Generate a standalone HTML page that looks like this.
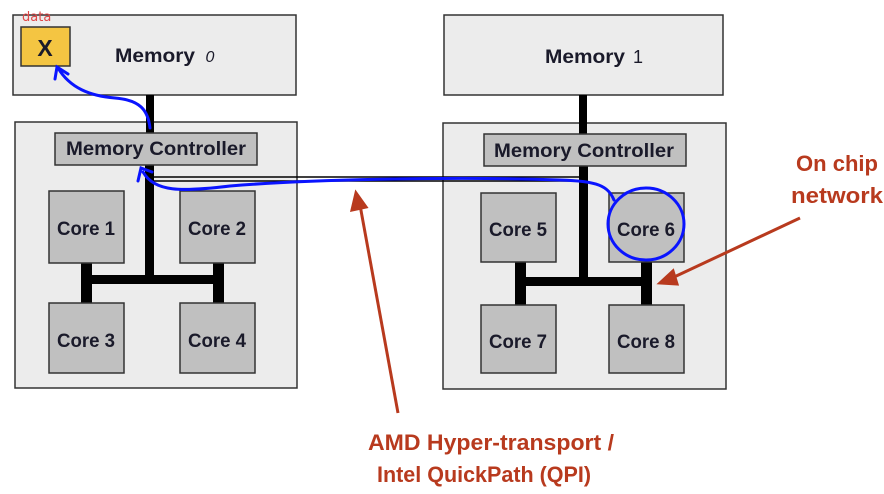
<!DOCTYPE html>
<html><head><meta charset="utf-8"><style>body{margin:0;background:#fff}svg{display:block}</style></head><body>
<svg width="884" height="494" viewBox="0 0 884 494" xmlns="http://www.w3.org/2000/svg" font-family="Liberation Sans, sans-serif" font-weight="bold">
<g stroke="#333" stroke-width="1.5">
<rect x="13" y="15" width="283" height="80" fill="#ececec"/>
<rect x="15" y="122" width="282" height="266" fill="#ececec"/>
<rect x="444" y="15" width="279" height="80" fill="#ececec"/>
<rect x="443" y="123" width="283" height="266" fill="#ececec"/>
<rect x="21" y="27" width="49" height="39" fill="#f4c542"/>
</g>
<g fill="#000">
<rect x="146" y="95" width="8" height="38"/>
<rect x="145" y="165" width="9" height="115"/>
<rect x="81" y="275" width="143" height="9"/>
<rect x="81" y="263" width="11" height="40"/>
<rect x="213" y="263" width="11" height="40"/>
<rect x="579" y="95" width="8" height="39"/>
<rect x="579" y="166" width="9" height="119"/>
<rect x="515" y="277" width="137" height="9"/>
<rect x="515" y="262" width="11" height="44"/>
<rect x="641" y="262" width="11" height="44"/>
</g>
<g stroke="#000" stroke-width="1.5" fill="none">
<path d="M150 177 H585"/><path d="M150 181 H582"/>
</g>
<g stroke="#333" stroke-width="1.5" fill="#c0c0c0">
<rect x="55" y="133" width="202" height="32"/>
<rect x="484" y="134" width="202" height="32"/>
<rect x="49" y="191" width="75" height="72"/>
<rect x="180" y="191" width="75" height="72"/>
<rect x="49" y="303" width="75" height="70"/>
<rect x="180" y="303" width="75" height="70"/>
<rect x="481" y="193" width="75" height="69"/>
<rect x="609" y="193" width="75" height="69"/>
<rect x="481" y="305" width="75" height="68"/>
<rect x="609" y="305" width="75" height="68"/>
</g>
<g fill="#1a1a2a" font-size="19" text-anchor="middle">
<text x="45" y="56" font-size="23">X</text>
<text x="155" y="62" textLength="80" lengthAdjust="spacingAndGlyphs">Memory</text>
<text x="210" y="62" font-weight="normal" font-style="italic" font-size="16">0</text>
<text x="585" y="63" textLength="80" lengthAdjust="spacingAndGlyphs">Memory</text>
<text x="638" y="63" font-weight="normal" font-size="18">1</text>
<text x="156" y="155" textLength="180" lengthAdjust="spacingAndGlyphs">Memory Controller</text>
<text x="584" y="157" textLength="180" lengthAdjust="spacingAndGlyphs">Memory Controller</text>
<text x="86" y="235" textLength="58" lengthAdjust="spacingAndGlyphs">Core 1</text>
<text x="217" y="235" textLength="58" lengthAdjust="spacingAndGlyphs">Core 2</text>
<text x="86" y="347" textLength="58" lengthAdjust="spacingAndGlyphs">Core 3</text>
<text x="217" y="347" textLength="58" lengthAdjust="spacingAndGlyphs">Core 4</text>
<text x="518" y="236" textLength="58" lengthAdjust="spacingAndGlyphs">Core 5</text>
<text x="646" y="236" textLength="58" lengthAdjust="spacingAndGlyphs">Core 6</text>
<text x="518" y="348" textLength="58" lengthAdjust="spacingAndGlyphs">Core 7</text>
<text x="646" y="348" textLength="58" lengthAdjust="spacingAndGlyphs">Core 8</text>
</g>
<text x="22" y="21" fill="#e04848" font-size="13" font-weight="normal" font-family="DejaVu Sans, sans-serif">data</text>
<g stroke="#b83a1e" stroke-width="3" fill="#b83a1e">
<path d="M398 413 L360 205" fill="none"/>
<path d="M356 193 L352 210 L366 207 Z"/>
<path d="M800 218 L672 278" fill="none"/>
<path d="M660 283 L673 271 L677 284 Z"/>
</g>
<g fill="#b83a1e" font-size="22" text-anchor="middle">
<text x="837" y="171" textLength="82" lengthAdjust="spacingAndGlyphs">On chip</text>
<text x="837" y="203" textLength="92" lengthAdjust="spacingAndGlyphs">network</text>
<text x="491" y="450" textLength="246" lengthAdjust="spacingAndGlyphs">AMD Hyper-transport /</text>
<text x="484" y="482" textLength="214" lengthAdjust="spacingAndGlyphs">Intel QuickPath (QPI)</text>
</g>
<g stroke="#0a14ff" stroke-width="3" fill="none" stroke-linecap="round">
<path d="M150 128 C148 110 140 100 115 98 C90 96 70 88 58 68"/>
<path d="M55 79 L57 67 L68 74"/>
<path d="M614 200 C608 186 598 181 560 180 C450 176 300 180 230 186 C180 192 155 192 143 172"/>
<path d="M138 181 L141 168 L152 172"/>
<ellipse cx="646" cy="224" rx="38" ry="36"/>
</g>
</svg>
</body></html>
